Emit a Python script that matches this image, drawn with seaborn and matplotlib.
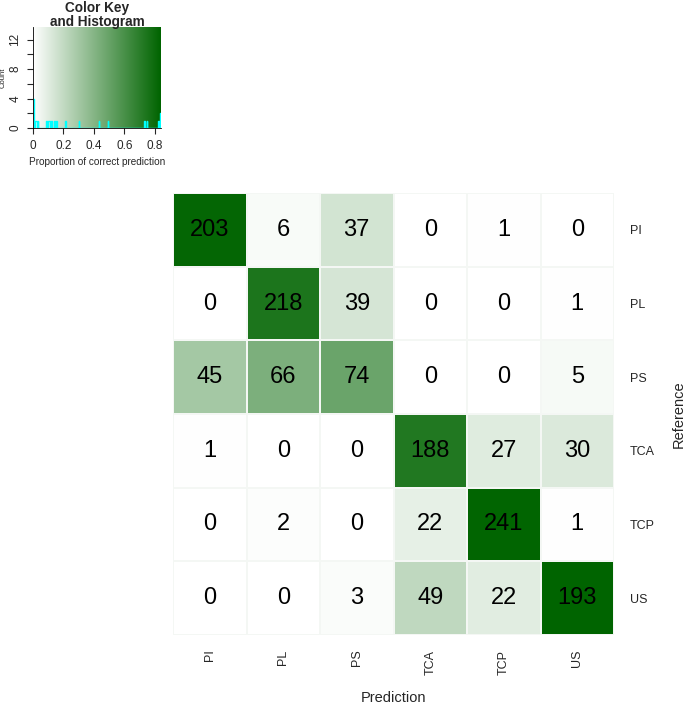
import numpy as np
import pandas as pd
import matplotlib
matplotlib.use("Agg")
import matplotlib.pyplot as plt
import seaborn as sns
from matplotlib.colors import LinearSegmentedColormap

classes = ["PI", "PL", "PS", "TCA", "TCP", "US"]

# confusion matrix counts (rows = Reference, cols = Prediction)
counts = [
    [203, 6, 37, 0, 1, 0],
    [0, 218, 39, 0, 0, 1],
    [45, 66, 74, 0, 0, 5],
    [1, 0, 0, 188, 27, 30],
    [0, 2, 0, 22, 241, 1],
    [0, 0, 3, 49, 22, 193],
]

# proportion of correct prediction (colour values)
props = [
    [0.825, 0.024, 0.15, 0.0, 0.004, 0.0],
    [0.0, 0.745, 0.14, 0.0, 0.0, 0.004],
    [0.30, 0.43, 0.49, 0.0, 0.0, 0.031],
    [0.004, 0.0, 0.0, 0.73, 0.105, 0.12],
    [0.0, 0.011, 0.0, 0.085, 0.835, 0.004],
    [0.0, 0.0, 0.017, 0.21, 0.10, 0.84],
]

key_ticks = [0, 0.2, 0.4, 0.6, 0.8]
count_ticks = [0, 4, 8, 12]

sns.set_theme(style="white")
plt.rcParams["font.family"] = ["Liberation Sans", "DejaVu Sans"]

cmap = LinearSegmentedColormap.from_list("wg", ["#ffffff", "#006400"])
vmax = 0.84

W, H = 685, 705
fig = plt.figure(figsize=(W / 100, H / 100), dpi=100)

# ---------- main heatmap ----------
ax = fig.add_axes([173 / W, 1 - 635 / H, 441 / W, 442 / H])
df_p = pd.DataFrame(props, index=classes, columns=classes)
df_c = pd.DataFrame(counts, index=classes, columns=classes)
sns.heatmap(df_p, annot=df_c, fmt="d", cmap=cmap, vmin=0, vmax=vmax,
            cbar=False, ax=ax, linewidths=0.3, linecolor="#f4f7f4",
            annot_kws={"size": 17, "color": "black"})
ax.yaxis.tick_right()
ax.yaxis.set_label_position("right")
ax.set_yticklabels(classes, rotation=0, fontsize=9, ha="left")
ax.set_xticklabels(classes, rotation=90, fontsize=9, va="top", ha="center")
ax.tick_params(axis="both", length=0)
ax.tick_params(axis="y", pad=11.5)
ax.tick_params(axis="x", pad=10.5)
ax.set_xlabel("Prediction", fontsize=10.5, labelpad=12)
ax.set_ylabel("Reference", fontsize=10.5, labelpad=12)

# ---------- colour key & histogram ----------
kax = fig.add_axes([33 / W, 1 - 128 / H, 128 / W, 101 / H])
ymax = 13.7
grad = np.linspace(0, vmax, 256).reshape(1, -1)
kax.imshow(grad, extent=[0, vmax, 0, ymax], aspect="auto", cmap=cmap,
           vmin=0, vmax=vmax, origin="lower")
vals = [v for row in props for v in row if v > 0]
sns.histplot(x=vals, binrange=(0, vmax), bins=168, element="step", fill=False,
             color="cyan", linewidth=1.0, ax=kax)
kax.set_xlim(0, vmax)
kax.set_ylim(0, ymax)
kax.set_xticks(key_ticks)
kax.set_xticklabels(["0", "0.2", "0.4", "0.6", "0.8"], fontsize=8.5)
kax.set_yticks([0, 2, 4, 6, 8, 10, 12])
kax.set_yticklabels(["0", "", "4", "", "8", "", "12"], fontsize=8.5,
                    rotation=90, va="center")
kax.tick_params(axis="both", length=4, width=0.8, direction="out",
                bottom=True, left=True, pad=4.5)
kax.set_xlabel("Proportion of correct prediction", fontsize=7.2, labelpad=4)
kax.set_ylabel("Count", fontsize=5.5)
kax.yaxis.set_label_coords(-0.205, 0.5)
for s in ["top", "right"]:
    kax.spines[s].set_visible(False)
kax.spines["left"].set_color("black")
kax.spines["bottom"].set_color("black")
kax.spines["left"].set_linewidth(0.6)
kax.spines["bottom"].set_linewidth(0.6)
fig.text(97 / W, 1 - 15 / H, "Color Key\nand Histogram", ha="center",
         va="center", fontsize=9.8, fontweight="bold", linespacing=0.95)

fig.savefig("out.png", dpi=100)
